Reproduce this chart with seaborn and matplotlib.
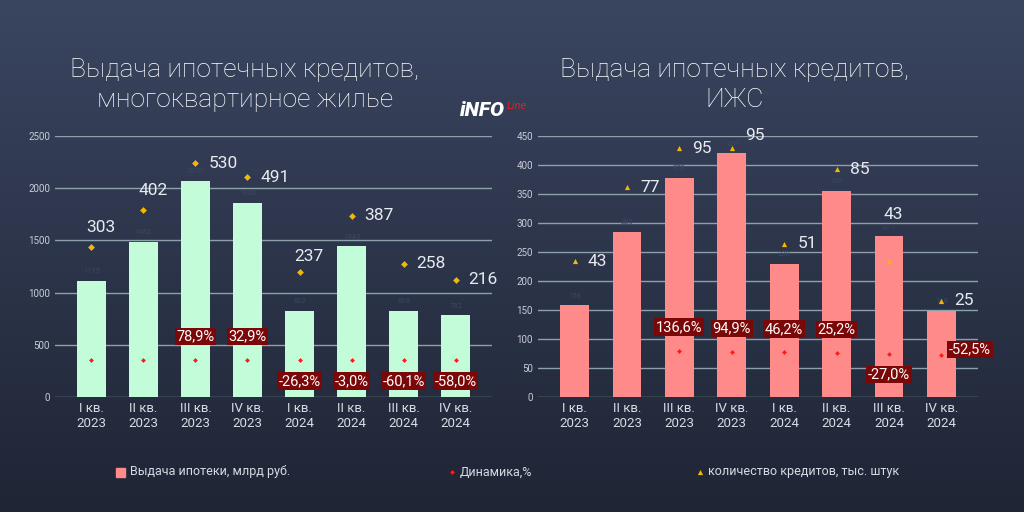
import numpy as np
import pandas as pd
import matplotlib
matplotlib.use("Agg")
import matplotlib.pyplot as plt
import seaborn as sns
from matplotlib.colors import LinearSegmentedColormap

quarters = ["I кв.\n2023", "II кв.\n2023", "III кв.\n2023", "IV кв.\n2023",
            "I кв.\n2024", "II кв.\n2024", "III кв.\n2024", "IV кв.\n2024"]
left_bars = [1115, 1482, 2070, 1860, 822, 1443, 826, 782]
left_count_pos = [1437, 1791, 2241, 2107, 1197, 1734, 1274, 1121]
left_count_lbl = ["303", "402", "530", "491", "237", "387", "258", "216"]
left_dyn_pos = [354, 354, 354, 354, 354, 354, 354, 354]
left_dyn_lbl = ["", "", "78,9%", "32,9%", "-26,3%", "-3,0%", "-60,1%", "-58,0%"]

right_bars = [158, 285, 378, 420, 230, 356, 277, 148]
right_count_pos = [234, 362, 429, 429, 264, 393, 234, 166]
right_count_lbl = ["43", "77", "95", "95", "51", "85", "43", "25"]
right_dyn_pos = [None, None, 80, 78, 77, 76, 75, 73]
right_dyn_lbl = ["", "", "136,6%", "94,9%", "46,2%", "25,2%", "-27,0%", "-52,5%"]

plt.rcParams["font.family"] = "Roboto"
fig = plt.figure(figsize=(10.24, 5.12), dpi=100)
bg = fig.add_axes([0, 0, 1, 1])
grad = np.linspace(0, 1, 256).reshape(-1, 1)
cm = LinearSegmentedColormap.from_list("g", ["#3a4560", "#1f2535"])
bg.imshow(grad, aspect="auto", cmap=cm, extent=[0, 1, 0, 1])
bg.axis("off")

W, H = 1024, 512
def ax_at(x0, y0, x1, y1):
    return fig.add_axes([x0 / W, 1 - y1 / H, (x1 - x0) / W, (y1 - y0) / H])

def panel(ax, bars, color, ymax, step, cpos, clbl, cmarker, csize, dpos, dlbl, off):
    df = pd.DataFrame({"q": quarters, "v": bars})
    sns.barplot(data=df, x="q", y="v", color=color, saturation=1, width=0.55, ax=ax, zorder=3)
    ax.set_facecolor("none")
    ax.set_ylim(0, ymax)
    ax.set_yticks(np.arange(0, ymax + 1, step))
    ax.grid(axis="y", color="#8fa0ad", lw=1, zorder=0)
    for s in ax.spines.values():
        s.set_visible(False)
    ax.tick_params(colors="#c9ced8", labelsize=7, length=0)
    ax.tick_params(axis="x", labelsize=9.5, colors="#d8dce4")
    ax.set_xlabel(""); ax.set_ylabel("")
    ax.set_xlim(-0.7, 7.7)
    for i, v in enumerate(bars):
        ax.text(i, v + ymax * 0.03, str(v), ha="center", fontsize=5.5, color="#3c4660", zorder=4)
    xs = np.arange(8)
    ax.scatter(xs, cpos, marker=cmarker, s=csize, color="#f5b800", zorder=5, linewidths=0)
    for i, (p, l) in enumerate(zip(cpos, clbl)):
        ax.text(i + off[i][0], p + off[i][1] * ymax, l, fontsize=12.5, color="#e8ebf0",
                ha="left", va="center", zorder=6)
    dx = [i for i in range(8) if dpos[i] is not None]
    ax.scatter(dx, [dpos[i] for i in dx], marker="D", s=6, color="#ff1a1a", zorder=5, linewidths=0)
    for i in range(8):
        if not dlbl[i]:
            continue
        neg = dlbl[i].startswith("-")
        y = dpos[i] + (-0.08 if neg else 0.09) * ymax
        x = i
        if i == 7 and ymax < 1000:
            x, y = i + 0.55, dpos[i] + 0.02 * ymax
        ax.text(x, y, dlbl[i], ha="center", va="center", fontsize=10.5, color="white",
                zorder=7, bbox=dict(boxstyle="square,pad=0.12", fc="#7a0808", ec="none"))

axl = ax_at(55, 136, 492, 397)
loff = [(-0.1, 0.075), (-0.1, 0.075), (0.25, 0.0), (0.25, 0.0), (-0.1, 0.06),
        (0.25, 0.0), (0.25, 0.0), (0.25, 0.0)]
panel(axl, left_bars, "#c2fcd8", 2500, 500, left_count_pos, left_count_lbl, "D", 12,
      left_dyn_pos, left_dyn_lbl, loff)
axr = ax_at(538, 136, 978, 397)
roff = [(0.25, 0.0), (0.25, 0.0), (0.25, 0.0), (0.25, 0.05), (0.25, 0.0),
        (0.25, 0.0), (-0.1, 0.18), (0.25, 0.0)]
panel(axr, right_bars, "#ff8a8a", 450, 50, right_count_pos, right_count_lbl, "^", 14,
      right_dyn_pos, right_dyn_lbl, roff)

fig.text(245 / W, 1 - 85 / H, "Выдача ипотечных кредитов,\nмногоквартирное жилье",
         ha="center", va="center", fontsize=19, color="white", fontweight="light", linespacing=1.35)
fig.text(735 / W, 1 - 85 / H, "Выдача ипотечных кредитов,\nИЖС",
         ha="center", va="center", fontsize=19, color="white", fontweight="light", linespacing=1.35)
fig.text(460 / W, 1 - 111 / H, "iNFO", fontsize=15, fontweight="black", color="white", va="center",
         style="italic")
fig.text(507 / W, 1 - 106 / H, "Line", fontsize=8, color="#e02020", va="center", style="italic")

fig.patches.append(plt.Rectangle((116 / W, 1 - 477 / H), 9 / W, 9 / H, transform=fig.transFigure,
                                 color="#ff8a8a"))
fig.text(130 / W, 1 - 472 / H, "Выдача ипотеки, млрд руб.", fontsize=9, color="#d8dce4", va="center")
bg.scatter([452 / W], [1 - 472 / H], marker="D", s=6, color="#ff1a1a", zorder=5, linewidths=0)
fig.text(460 / W, 1 - 472 / H, "Динамика,%", fontsize=9, color="#d8dce4", va="center")
bg.scatter([700 / W], [1 - 472 / H], marker="^", s=14, color="#f5b800", zorder=5, linewidths=0)
fig.text(708 / W, 1 - 472 / H, "количество кредитов, тыс. штук", fontsize=9, color="#d8dce4", va="center")
bg.set_xlim(0, 1); bg.set_ylim(0, 1)

fig.savefig("out.png", dpi=100)
